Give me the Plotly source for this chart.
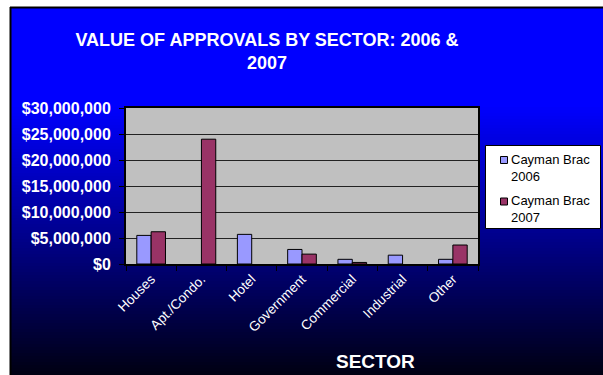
import plotly.graph_objects as go

categories = ["Houses", "Apt./Condo.", "Hotel", "Government", "Commercial", "Industrial", "Other"]
values_2006 = [5500000, None, 5700000, 2800000, 900000, 1700000, 900000]
values_2007 = [6200000, 24000000, None, 1900000, 300000, None, 3650000]
series_names = ["Cayman Brac 2006", "Cayman Brac 2007"]
legend_texts = ["Cayman Brac<br>2006", "Cayman Brac<br>2007"]
series_colors = ["#9999FF", "#993366"]
y_ticks = [0, 5000000, 10000000, 15000000, 20000000, 25000000, 30000000]
y_tick_labels = ["$0", "$5,000,000", "$10,000,000", "$15,000,000", "$20,000,000", "$25,000,000", "$30,000,000"]

W, H = 603, 375
L, R, T, B = 126, 125, 108, 111
PW, PH = W - L - R, H - T - B

def px_x(x):
    return (x - L) / PW

def px_y(y):
    return (H - B - y) / PH

FONT = "Liberation Sans, Arial, sans-serif"

fig = go.Figure()
for vals, name, col in zip([values_2006, values_2007], series_names, series_colors):
    fig.add_trace(go.Bar(x=categories, y=vals, name=name,
                         marker=dict(color=col, line=dict(color="#000000", width=1))))

shapes = []
# gradient background strips
y_top, y_bot = 8, 375
step = 3
y = y_top
while y < y_bot:
    yc = y + step / 2
    if yc < 105:
        b = 255
    else:
        b = 255 - (255 - 18) * (yc - 105) / (375 - 105)
    col = "rgb(0,0,%d)" % round(b)
    shapes.append(dict(type="rect", xref="paper", yref="paper",
                       x0=px_x(11), x1=px_x(W + 2), y0=px_y(min(y + step + 0.5, y_bot + 2)), y1=px_y(y),
                       fillcolor=col, line=dict(width=0), layer="below"))
    y += step
# border lines
shapes.append(dict(type="line", xref="paper", yref="paper", x0=px_x(10.5), x1=px_x(10.5),
                   y0=px_y(7), y1=px_y(H + 2), line=dict(color="#000000", width=2), layer="below"))
shapes.append(dict(type="line", xref="paper", yref="paper", x0=px_x(10), x1=px_x(W + 2),
                   y0=px_y(7.5), y1=px_y(7.5), line=dict(color="#000000", width=2), layer="below"))
# plot area background
shapes.append(dict(type="rect", xref="paper", yref="paper", x0=0, x1=1, y0=0, y1=1,
                   fillcolor="#C0C0C0", line=dict(width=0), layer="below"))

# legend box (drawn manually)
shapes.append(dict(type="rect", xref="paper", yref="paper",
                   x0=px_x(485.5), x1=px_x(600.5), y0=px_y(228.5), y1=px_y(145.5),
                   fillcolor="#FFFFFF", line=dict(color="#000000", width=1), layer="above"))
annotations = []
legend_row_y = [167.5, 209]
for ry, col, txt in zip(legend_row_y, series_colors, legend_texts):
    my = ry - 7.5
    shapes.append(dict(type="rect", xref="paper", yref="paper",
                       x0=px_x(500.5), x1=px_x(507.5), y0=px_y(my + 3.5), y1=px_y(my - 3.5),
                       fillcolor=col, line=dict(color="#000000", width=1), layer="above"))
    annotations.append(dict(text=txt, x=px_x(510), y=px_y(ry), xref="paper", yref="paper",
                            showarrow=False, xanchor="left", yanchor="middle", align="left",
                            borderpad=0,
                            font=dict(family=FONT, size=13, color="#000000")))

annotations.append(dict(text="<b>SECTOR</b>", x=px_x(375), y=px_y(361), xref="paper", yref="paper",
                        showarrow=False, xanchor="center", yanchor="middle",
                        font=dict(family=FONT, size=19, color="#FFFFFF")))

fig.update_layout(
    width=W, height=H,
    margin=dict(l=L, r=R, t=T, b=B, pad=0, autoexpand=False),
    paper_bgcolor="#FFFFFF",
    plot_bgcolor="#C0C0C0",
    font=dict(family=FONT, color="#FFFFFF"),
    shapes=shapes,
    barmode="group",
    bargap=0.43,
    bargroupgap=0,
    title=dict(text="VALUE OF APPROVALS BY SECTOR: 2006 &<br>2007",
               x=px_x(267), xref="paper", xanchor="center",
               y=1 - 46 / H, yref="container", yanchor="middle",
               font=dict(family=FONT, size=18, color="#FFFFFF", weight="bold")),
    showlegend=False,
    annotations=annotations,
)

fig.update_xaxes(
    showline=True, linecolor="#000000", linewidth=2, mirror=True,
    ticks="outside", ticklen=5, tickcolor="#000000", tickson="boundaries",
    tickangle=-45, tickfont=dict(family=FONT, size=13.5, color="#FFFFFF"),
    showgrid=False,
)
fig.update_yaxes(
    range=[0, 30000000], tickvals=y_ticks, ticktext=y_tick_labels,
    showline=True, linecolor="#000000", linewidth=2, mirror=True,
    ticks="outside", ticklen=5, tickcolor="#000000",
    showgrid=True, gridcolor="#222222", gridwidth=1,
    tickfont=dict(family=FONT, size=16, color="#FFFFFF", weight="bold"),
    ticklabelstandoff=5, zeroline=False,
)

fig.write_html("out.html")
